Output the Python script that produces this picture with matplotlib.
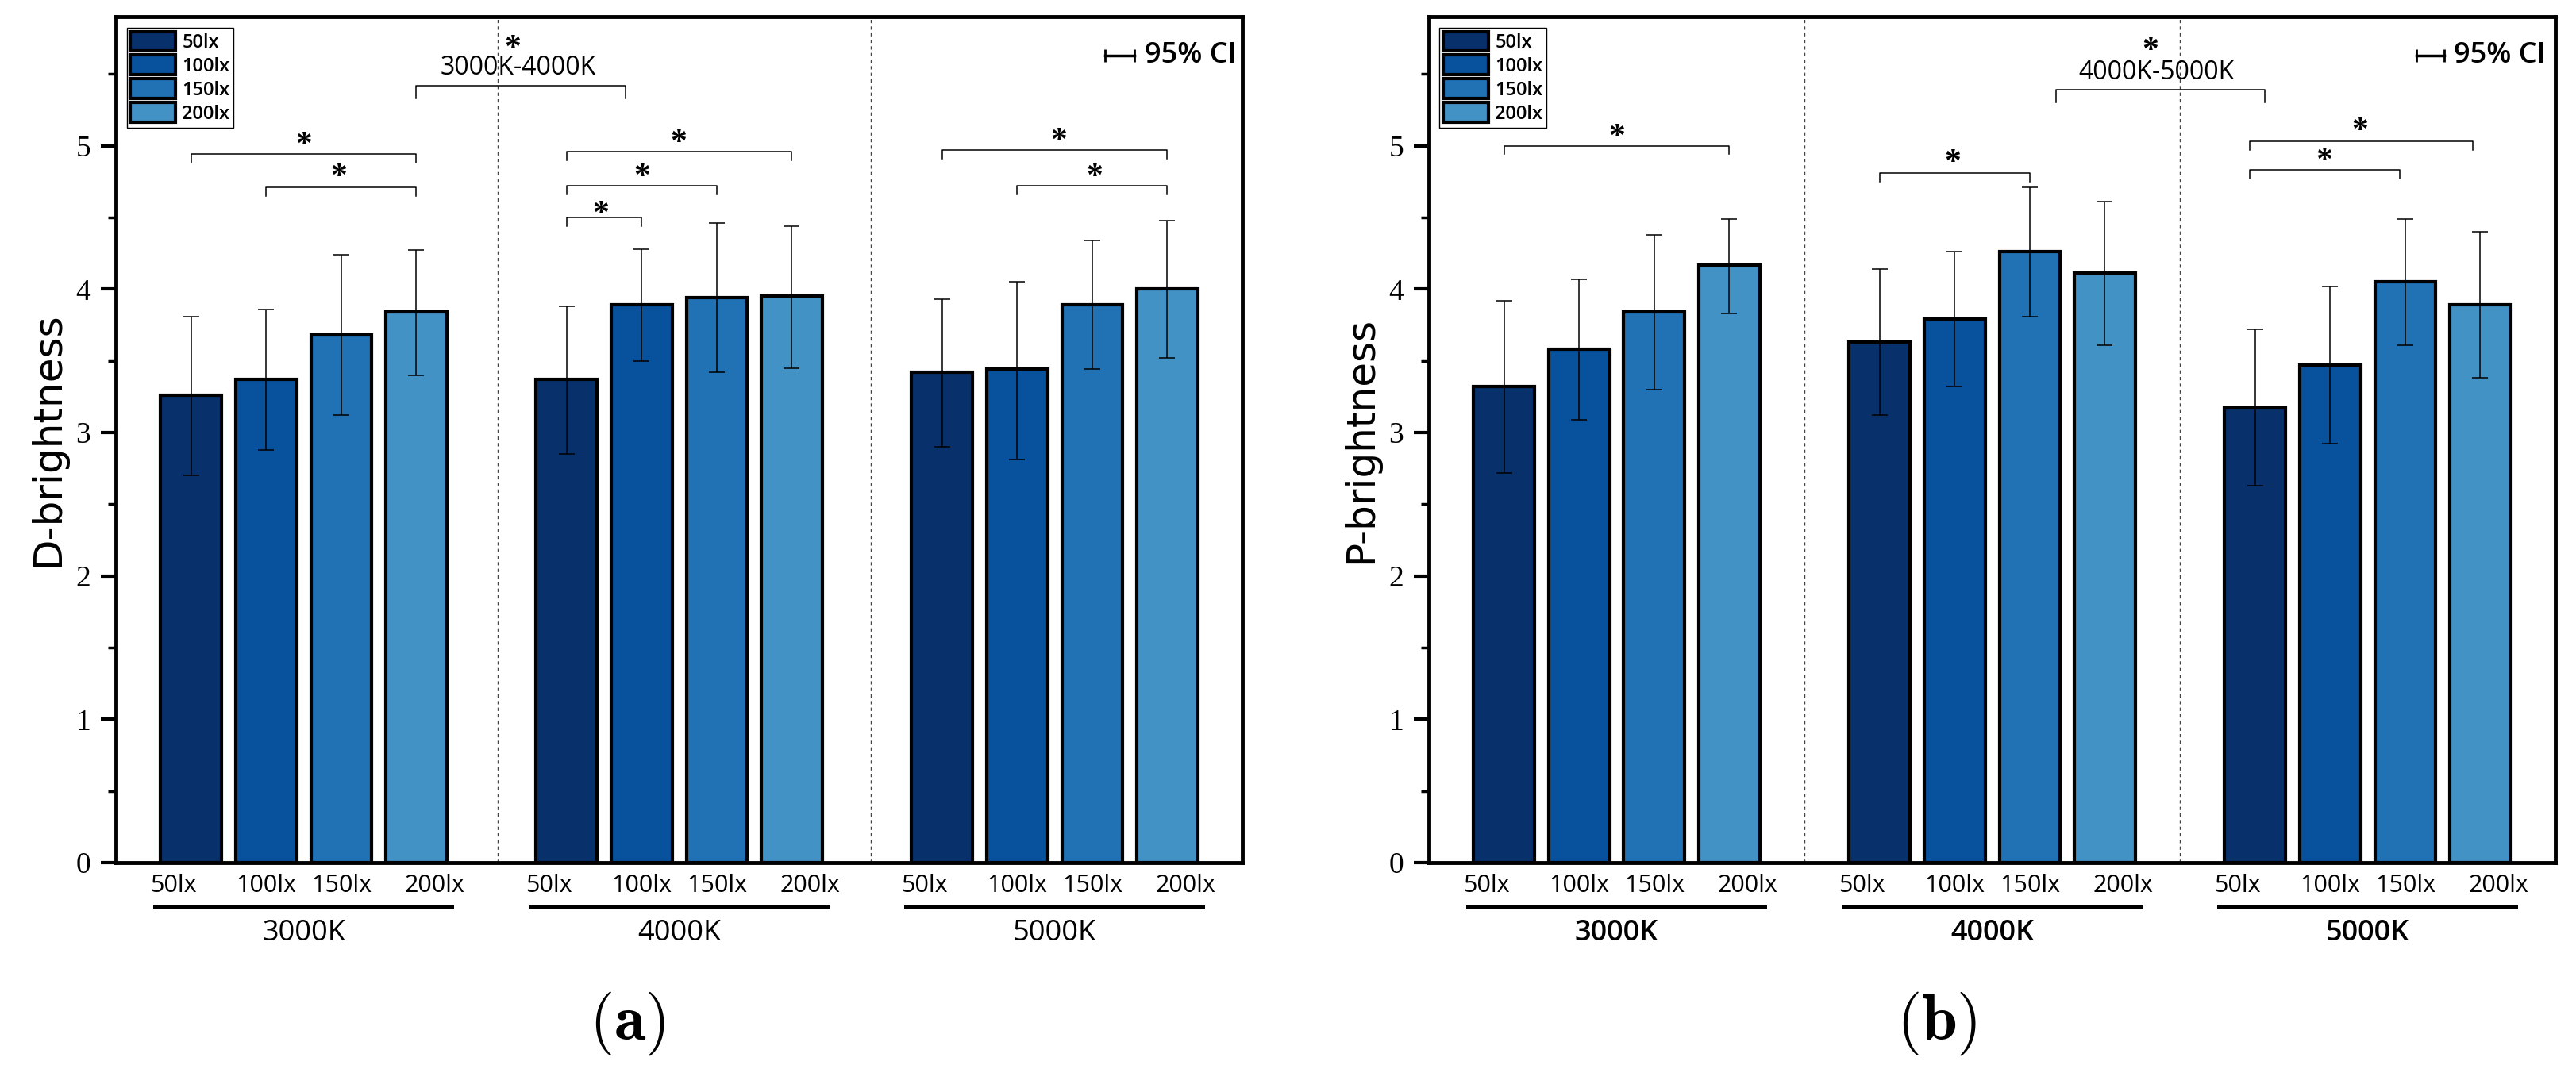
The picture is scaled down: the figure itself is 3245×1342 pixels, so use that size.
import matplotlib.pyplot as plt
from matplotlib import transforms as mtransforms
import numpy as np

lux_levels = ['50lx', '100lx', '150lx', '200lx']
cct_groups = ['3000K', '4000K', '5000K']
bar_colors = ['#08306b', '#08519c', '#2171b5', '#4292c6']

# D-brightness, one row per CCT group, columns follow lux_levels
d_mean = [[3.26, 3.37, 3.68, 3.84],
          [3.37, 3.89, 3.94, 3.95],
          [3.42, 3.44, 3.89, 4.00]]
d_ci_low = [[2.70, 2.88, 3.12, 3.40],
            [2.85, 3.50, 3.42, 3.45],
            [2.90, 2.81, 3.44, 3.52]]
d_ci_high = [[3.81, 3.86, 4.24, 4.27],
             [3.88, 4.28, 4.46, 4.44],
             [3.93, 4.05, 4.34, 4.48]]

# P-brightness
p_mean = [[3.32, 3.58, 3.84, 4.17],
          [3.63, 3.79, 4.26, 4.11],
          [3.17, 3.47, 4.05, 3.89]]
p_ci_low = [[2.72, 3.09, 3.30, 3.83],
            [3.12, 3.32, 3.81, 3.61],
            [2.63, 2.92, 3.61, 3.38]]
p_ci_high = [[3.92, 4.07, 4.38, 4.49],
             [4.14, 4.26, 4.71, 4.61],
             [3.72, 4.02, 4.49, 4.40]]

# significance brackets within a CCT group: (x_left, x_right, y, star_x, star_y)
d_brackets = [(0, 3, 4.94, 1.5, 5.04), (1, 3, 4.71, 1.97, 4.82),
              (5, 8, 4.96, 6.49, 5.06), (5, 7, 4.72, 6.0, 4.82), (5, 6, 4.50, 5.46, 4.56),
              (10, 13, 4.97, 11.55, 5.07), (11, 13, 4.72, 12.03, 4.82)]
p_brackets = [(0, 3, 5.00, 1.5, 5.10),
              (5, 7, 4.81, 5.97, 4.92),
              (9.93, 12.9, 5.03, 11.4, 5.14), (9.93, 11.93, 4.83, 10.92, 4.93)]

# bracket between CCT groups: (x_left, x_right, y, label, label_x, label_y, star_x, star_y)
d_between = (3.0, 5.79, 5.42, '3000K-4000K', 4.36, 5.54, 4.28, 5.72)
p_between = (7.35, 10.13, 5.39, '4000K-5000K', 8.69, 5.51, 8.61, 5.70)

SANS = ['Open Sans', 'DejaVu Sans']
SERIF = ['Liberation Serif', 'DejaVu Serif']

fig = plt.figure(figsize=(32.45, 13.42), dpi=100)


def draw_star(ax, x, y):
    off = mtransforms.offset_copy(ax.transData, fig=fig, y=-13, units='points')
    ax.text(x, y, '*', transform=off, ha='center', va='baseline',
            fontsize=30, family=SERIF, fontweight='bold')


def draw_bracket(ax, x0, x1, y, leg=0.06):
    ax.plot([x0, x0, x1, x1], [y - leg, y, y, y - leg], color='black', lw=1.1)


def draw_panel(ax, mean, low, high, brackets, between, ylabel, group_weight, seps):
    for i, lux in enumerate(lux_levels):
        xs = [g * 5 + i for g in range(len(cct_groups))]
        m = np.array([row[i] for row in mean])
        lo = np.array([row[i] for row in low])
        hi = np.array([row[i] for row in high])
        ax.bar(xs, m, width=0.81, color=bar_colors[i], edgecolor='black',
               linewidth=3, label=lux, zorder=2)
        ax.errorbar(xs, m, yerr=[m - lo, hi - m], fmt='none', ecolor='black',
                    elinewidth=1.1, capsize=7, capthick=1.1, zorder=3)

    for s in seps:
        ax.axvline(s, color='#444444', lw=1.0, ls=(0, (3, 3)), zorder=1)

    for x0, x1, y, sx, sy in brackets:
        draw_bracket(ax, x0, x1, y)
        draw_star(ax, sx, sy)

    x0, x1, y, label, lx, ly, sx, sy = between
    draw_bracket(ax, x0, x1, y, leg=0.09)
    ax.text(lx, ly, label, ha='center', va='center', fontsize=23, family=SANS)
    draw_star(ax, sx, sy)

    ax.set_xlim(-1, 14)
    ax.set_ylim(0, 5.9)
    ax.set_xticks([])
    ax.set_yticks(range(6))
    ax.set_yticks(np.arange(0.5, 6, 1.0), minor=True)
    ax.tick_params(axis='y', which='major', length=14, width=3, labelsize=27, pad=9)
    ax.tick_params(axis='y', which='minor', length=7, width=2.5)
    for lab in ax.get_yticklabels():
        lab.set_family(SERIF)
    for sp in ax.spines.values():
        sp.set_linewidth(3.5)
    ax.set_ylabel(ylabel, fontsize=36, family=['DejaVu Sans'], labelpad=8)

    # lux labels under each bar and group lines
    xt = ax.get_xaxis_transform()
    shift = [-0.24, 0, 0, 0.24]
    for g, cct in enumerate(cct_groups):
        for i, lux in enumerate(lux_levels):
            ax.text(g * 5 + i + shift[i], -0.027, lux, transform=xt, ha='center',
                    va='center', fontsize=22, family=SANS, clip_on=False)
        ax.plot([g * 5 - 0.5, g * 5 + 3.5], [-0.0525, -0.0525], transform=xt,
                color='black', lw=3, clip_on=False, solid_capstyle='butt')
        ax.text(g * 5 + 1.5, -0.0835, cct, transform=xt, ha='center', va='center',
                fontsize=26, family=SANS, fontweight=group_weight, clip_on=False)

    ax.legend(loc='upper left', bbox_to_anchor=(0.0095, 0.987), borderaxespad=0,
              prop={'family': SANS, 'size': 17, 'weight': 'semibold'},
              handlelength=2.4, handleheight=1.25, labelspacing=0.15,
              handletextpad=0.35, borderpad=0.2, fancybox=False,
              edgecolor='black', framealpha=1).get_frame().set_linewidth(1.0)


ax_a = fig.add_axes([0.045, 0.19, 0.4373, 0.7944])
ax_b = fig.add_axes([0.5547, 0.19, 0.4373, 0.7944])

draw_panel(ax_a, d_mean, d_ci_low, d_ci_high, d_brackets, d_between,
           'D-brightness', 'normal', [4.08, 9.05])
draw_panel(ax_b, p_mean, p_ci_low, p_ci_high, p_brackets, p_between,
           'P-brightness', 'semibold', [4.0, 9.0])

# 95% CI key
for ax, x0, x1, tx in [(ax_a, 0.878, 0.904, 0.913), (ax_b, 0.877, 0.901, 0.910)]:
    ax.plot([x0, x1], [0.954, 0.954], transform=ax.transAxes, color='black', lw=2.5,
            marker='|', markersize=12, markeredgewidth=2)
    ax.text(tx, 0.954, '95% CI', transform=ax.transAxes, ha='left', va='center',
            fontsize=26, family=SANS, fontweight='semibold')

fig.text(0.2435, 0.0387, r'$(\mathbf{a})$', ha='center', va='center',
         fontsize=58, math_fontfamily='cm')
fig.text(0.7519, 0.0387, r'$(\mathbf{b})$', ha='center', va='center',
         fontsize=58, math_fontfamily='cm')

fig.savefig('out.png', dpi=100)
